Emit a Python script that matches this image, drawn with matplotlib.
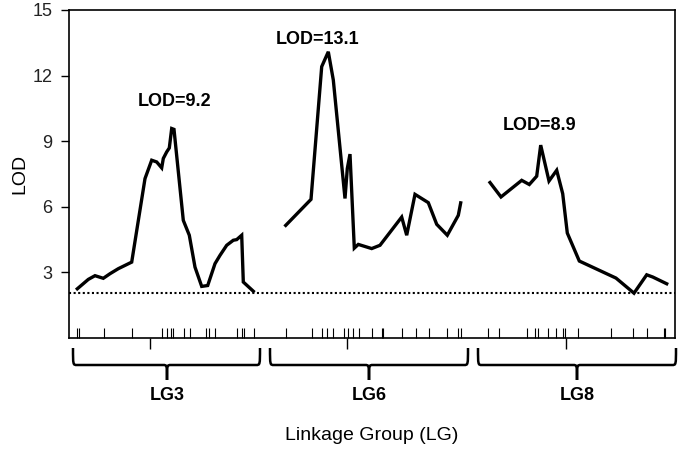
import matplotlib
matplotlib.use("Agg")
import matplotlib.pyplot as plt
import matplotlib.transforms as mtransforms
from matplotlib.path import Path
from matplotlib.patches import PathPatch

plt.rcParams['font.family'] = ['Liberation Sans', 'DejaVu Sans']

# ---- data (x positions along the concatenated linkage map) ----
lg3_x = [8.3, 19.3, 26, 34.3, 41, 49.3, 62.7, 76, 82.7, 87.7, 92.7, 94.3, 97.7, 100.3,
         102.7, 105, 114.3, 120.3, 126, 132.7, 138.7, 146, 151, 157.7, 164.3, 167.7,
         172.7, 174.3, 184.3]
lg3_lod = [2.25, 2.68, 2.85, 2.73, 2.94, 3.17, 3.47, 7.29, 8.13, 8.05, 7.78, 8.21, 8.51,
           8.69, 9.58, 9.54, 5.38, 4.70, 3.24, 2.36, 2.40, 3.40, 3.78, 4.24, 4.47, 4.50,
           4.70, 2.56, 2.14]

lg6_x = [216.7, 242, 252.7, 259.3, 264.3, 276, 278.3, 281, 285.3, 289.3, 302.7, 311,
         332.7, 337.7, 346, 359.3, 367.7, 378.3, 389.3, 391.7]
lg6_lod = [5.15, 6.34, 12.41, 13.09, 11.80, 6.38, 7.75, 8.41, 4.11, 4.28, 4.09, 4.24,
           5.53, 4.70, 6.57, 6.19, 5.20, 4.70, 5.61, 6.18]

lg8_x = [421, 432, 452.7, 460.3, 467.7, 471.7, 480, 487.7, 493.7, 498.3, 510.3, 547,
         565, 577.7, 583.7, 597.7]
lg8_lod = [7.11, 6.45, 7.21, 7.02, 7.40, 8.82, 7.18, 7.67, 6.60, 4.80, 3.52, 2.74,
           2.05, 2.89, 2.79, 2.48]

markers = [7.7, 10, 35.3, 62.7, 92.7, 97.7, 102, 103.7, 115, 121, 137, 139.5, 146,
           167.7, 172.7, 174.7, 185, 217, 242.7, 252.7, 258.3, 264.3, 275, 279.3, 284.3,
           290, 302.7, 312.7, 314.3, 332.7, 346.7, 360, 377.7, 389.3, 391.7, 419.3,
           430.3, 457.7, 466, 469.3, 479.3, 487, 493.7, 496, 508.7, 542, 564.3, 577.7,
           595, 596.3]

major_ticks = [81, 278, 497]

threshold = 2.05

groups = ['LG3', 'LG6', 'LG8']
brace_spans = [(4, 191), (201, 399), (409, 607)]
group_centers = [98, 300, 508]

peak_labels = ['LOD=9.2', 'LOD=13.1', 'LOD=8.9']
peak_label_pos = [(106, 10.8), (249, 13.65), (471, 9.7)]

yticks = [3, 6, 9, 12, 15]

# ---- figure ----
fig = plt.figure(figsize=(6.79, 4.53), dpi=100)
ax = fig.add_axes([69/679, 115/453, 606/679, 328/453])

for xs, ys in [(lg3_x, lg3_lod), (lg6_x, lg6_lod), (lg8_x, lg8_lod)]:
    ax.plot(xs, ys, color='black', lw=2.4, solid_joinstyle='miter')

ax.axhline(threshold, color='black', lw=1.5, ls=(0, (1, 1.2)))

ax.set_xlim(0, 606)
ax.set_ylim(0, 15)
ax.set_yticks(yticks)
ax.set_yticklabels([str(t) for t in yticks], fontsize=13, color='#222222')
ax.tick_params(axis='y', direction='out', length=6, width=1.0, pad=6)

ax.set_xticks(major_ticks)
ax.set_xticklabels([])
ax.tick_params(axis='x', which='major', direction='out', length=8, width=1.0)
ax.set_xticks(markers, minor=True)
ax.tick_params(axis='x', which='minor', direction='in', length=7, width=0.8)

for sp in ax.spines.values():
    sp.set_linewidth(1.2)

ax.set_ylabel('LOD', fontsize=14, labelpad=3)

for txt, (x, y) in zip(peak_labels, peak_label_pos):
    ax.text(x, y, txt, fontsize=13, fontweight='bold', ha='center', va='center')

# braces under the axis
trans = mtransforms.blended_transform_factory(ax.transData, ax.transAxes)
ppx = 1.0 / 328.0
y_top = -10 * ppx
y_mid = -27 * ppx
y_tip = -42 * ppx
for (x0, x1), c in zip(brace_spans, group_centers):
    verts = [
        (x0, y_top), (x0, y_mid), (x0, y_mid), (x0 + 4, y_mid),
        (c - 4, y_mid), (c, y_mid), (c, y_mid), (c, y_tip),
        (c, y_mid), (c, y_mid), (c + 4, y_mid),
        (x1 - 4, y_mid), (x1, y_mid), (x1, y_mid), (x1, y_top),
    ]
    codes = [
        Path.MOVETO, Path.CURVE4, Path.CURVE4, Path.CURVE4,
        Path.LINETO, Path.CURVE4, Path.CURVE4, Path.CURVE4,
        Path.CURVE4, Path.CURVE4, Path.CURVE4,
        Path.LINETO, Path.CURVE4, Path.CURVE4, Path.CURVE4,
    ]
    patch = PathPatch(Path(verts, codes), transform=trans, fill=False,
                      lw=1.8, edgecolor='black', clip_on=False)
    ax.add_patch(patch)

for g, c in zip(groups, group_centers):
    ax.text(c, -57 * ppx, g, transform=trans, fontsize=13, fontweight='bold',
            ha='center', va='center')

ax.text(0.5, -98 * ppx, 'Linkage Group (LG)', transform=ax.transAxes,
        fontsize=14, ha='center', va='center')

fig.savefig('out.png', dpi=100)
